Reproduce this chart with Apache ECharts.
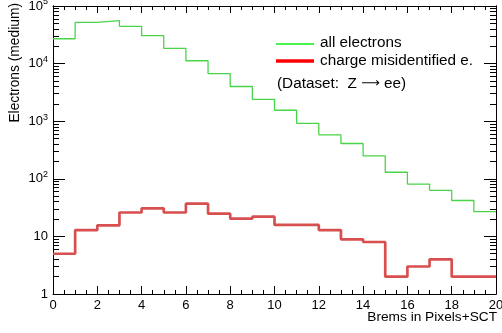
<!DOCTYPE html>
<html><head><meta charset="utf-8">
<script src="https://cdn.jsdelivr.net/npm/echarts@6/dist/echarts.min.js"></script>
<style>html,body{margin:0;padding:0;background:#fff}#c{width:502px;height:333px}</style>
</head><body><div id="c"></div>
<script>
const binEdges = [0,1,2,3,4,5,6,7,8,9,10,11,12,13,14,15,16,17,18,19,20];
const allElectrons = [27000,52000,55600,44400,30500,18400,11200,6700,4000,2400,1550,920,580,410,250,130,81,63,42,27];
const chargeMisid = [5,12.8,15.6,26,30.7,26,37,24.8,20.3,22,15.8,15.8,12.9,8.9,8.0,2,3,4,2,2];
const xTickValues = [0,2,4,6,8,10,12,14,16,18,20];
const yMajorTicks = [1,10,100,1000,10000,100000];
const yTickLabels = ['1','10','10{s|2}','10{s|3}','10{s|4}','10{s|5}'];
const legendNames = ['all electrons','charge misidentified e.'];
const datasetNote = '(Dataset:  Z {a|\u27F6} ee)';
const xTitle = 'Brems in Pixels+SCT';
const yTitle = 'Electrons (medium)';

const yMinorTicks = [];
yMajorTicks.slice(0,-1).forEach(d => { for (let k=2;k<=9;k++) yMinorTicks.push(d*k); });

function stepData(vals){
  const d = vals.map((v,i)=>[binEdges[i], v]);
  d.push([binEdges[vals.length], vals[vals.length-1]]);
  return d;
}
const FONT = 'Liberation Sans';
const black = '#000';

function xAx(pos, showLabel, len){
  return {
    type:'value', position:pos, min:0, max:20, interval:2,
    axisLine:{show:true,onZero:false,lineStyle:{color:black,width:1}},
    axisTick:{show:true,inside:true,length:len,customValues:xTickValues,lineStyle:{color:black}},
    minorTick:{show:true,splitNumber:4,length:4,lineStyle:{color:black}},
    splitLine:{show:false}, minorSplitLine:{show:false},
    axisLabel:{show:showLabel,color:black,fontFamily:FONT,fontSize:13,margin:5,
      customValues:xTickValues, hideOverlap:false, formatter:v=>String(v)}
  };
}
function yAx(pos, ticks, len, labels){
  return {
    type:'log', logBase:10, position:pos, min:1, max:100000,
    axisLine:{show:true,onZero:false,lineStyle:{color:black,width:1}},
    axisTick:{show:true,inside:true,length:len,customValues:ticks,lineStyle:{color:black}},
    splitLine:{show:false}, minorTick:{show:false}, minorSplitLine:{show:false},
    axisLabel:labels ? {show:true,customValues:yMajorTicks,color:black,fontFamily:FONT,fontSize:13,margin:5,
      hideOverlap:false,
      formatter:v=>{const i=yMajorTicks.findIndex(t=>Math.abs(t-v)/t<1e-6); return i>=0?yTickLabels[i]:'';},
      rich:{s:{fontSize:9,fontFamily:FONT,color:black,padding:[0,0,8,0]}}} : {show:false}
  };
}

const chart = echarts.init(document.getElementById('c'), null, {renderer:'canvas'});
chart.setOption({
  animation:false,
  backgroundColor:'#fff',
  grid:{left:53,right:6,top:6,bottom:39,containLabel:false,outerBoundsMode:'none'},
  xAxis:[xAx('bottom',true,8), xAx('top',false,7)],
  yAxis:[yAx('left',yMajorTicks,12,true), yAx('left',yMinorTicks,6,false),
         yAx('right',yMajorTicks,12,false), yAx('right',yMinorTicks,6,false)],
  series:[
    {name:legendNames[0],type:'line',step:'end',data:stepData(allElectrons),symbol:'none',
     xAxisIndex:0,yAxisIndex:0,lineStyle:{color:'#4ad44a',width:1.3},clip:true},
    {name:legendNames[1],type:'line',step:'end',data:stepData(chargeMisid),symbol:'none',
     xAxisIndex:0,yAxisIndex:0,lineStyle:{color:'#d84f4f',width:2.7},clip:true}
  ],
  graphic:[
    {type:'line',shape:{x1:276,y1:44,x2:314,y2:44},style:{stroke:'#11ee11',lineWidth:1.6}},
    {type:'line',shape:{x1:276,y1:61,x2:314,y2:61},style:{stroke:'#ff0000',lineWidth:3.3}},
    {type:'text',x:320,y:43,style:{text:legendNames[0],fill:black,font:'15.3px "Liberation Sans"',verticalAlign:'middle'}},
    {type:'text',x:320,y:61,style:{text:legendNames[1],fill:black,font:'15.3px "Liberation Sans"',verticalAlign:'middle'}},
    {type:'text',x:277,y:84,style:{text:datasetNote,fill:black,fontFamily:'Liberation Sans',fontSize:15.3,verticalAlign:'middle',
      rich:{a:{fontFamily:'DejaVu Sans',fontSize:13,fill:black}}}},
    {type:'text',x:497,y:317.5,style:{text:xTitle,fill:black,font:'13.7px "Liberation Sans"',align:'right',verticalAlign:'middle'}},
    {type:'text',x:15,y:3,rotation:Math.PI/2,style:{text:yTitle,fill:black,font:'13.8px "Liberation Sans"',align:'right',verticalAlign:'middle'}}
  ]
});
</script></body></html>
